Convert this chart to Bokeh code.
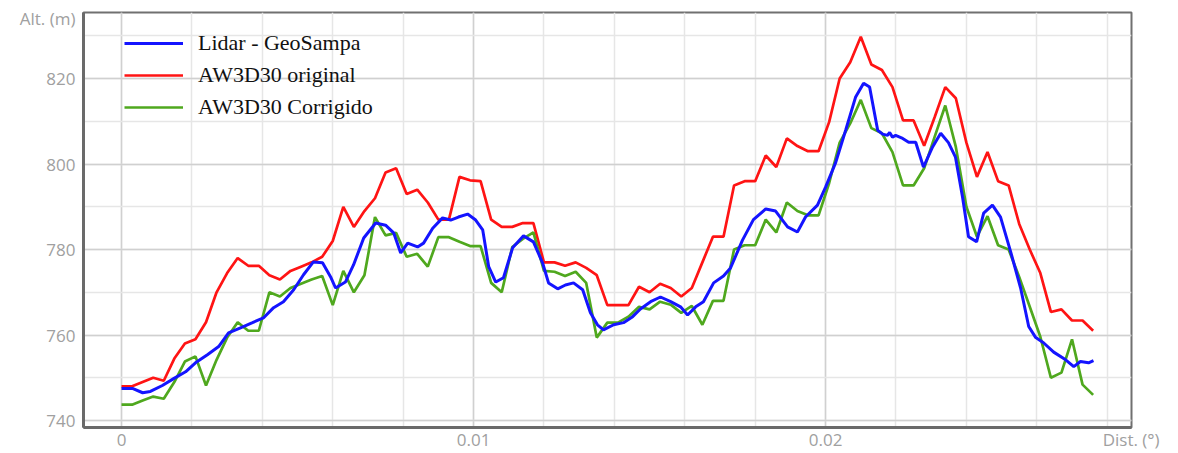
from bokeh.plotting import figure
from bokeh.models import (Range1d, SingleIntervalTicker, FixedTicker, Legend, LegendItem,
                          NumeralTickFormatter)
from bokeh.embed import file_html
from bokeh.resources import INLINE

# ---- data (distance in degrees, altitude in m) ----
dist_aw = [0.0000, 0.0003, 0.0006, 0.0009, 0.0012, 0.0015, 0.0018, 0.0021, 0.0024, 0.0027,
           0.0030, 0.0033, 0.0036, 0.0039, 0.0042, 0.0045, 0.0048, 0.0051, 0.0054, 0.0057,
           0.0060, 0.0063, 0.0066, 0.0069, 0.0072, 0.0075, 0.0078, 0.0081, 0.0084, 0.0087,
           0.0090, 0.0093, 0.0096, 0.0099, 0.0102, 0.0105, 0.0108, 0.0111, 0.0114, 0.0117,
           0.0120, 0.0123, 0.0126, 0.0129, 0.0132, 0.0135, 0.0138, 0.0141, 0.0144, 0.0147,
           0.0150, 0.0153, 0.0156, 0.0159, 0.0162, 0.0165, 0.0168, 0.0171, 0.0174, 0.0177,
           0.0180, 0.0183, 0.0186, 0.0189, 0.0192, 0.0195, 0.0198, 0.0201, 0.0204, 0.0207,
           0.0210, 0.0213, 0.0216, 0.0219, 0.0222, 0.0225, 0.0228, 0.0231, 0.0234, 0.0237,
           0.0240, 0.0243, 0.0246, 0.0249, 0.0252, 0.0255, 0.0258, 0.0261, 0.0264, 0.0267,
           0.0270, 0.0273, 0.0276]

alt_original = [748, 748, 749, 750, 749.3, 754.5, 758, 759, 763, 770,
                774.5, 778, 776.2, 776.2, 774, 773, 775, 776, 777, 778.3,
                782, 790, 785.3, 789, 792, 798, 799, 793, 794, 791,
                787, 787, 797, 796.2, 796, 787, 785.3, 785.3, 786.2, 786.2,
                777, 777, 776.2, 777, 775.7, 774, 767, 767, 767, 771.3,
                770, 772, 771, 769, 771, 777, 783, 783, 795, 796,
                796, 802, 799.3, 806, 804.2, 803, 803, 809.8, 820, 823.8,
                829.8, 823.3, 822, 818, 810.2, 810.2, 804.3, 811, 818, 815.4,
                805, 797, 802.8, 796, 795, 786, 780, 774.5, 765.4, 766,
                763.4, 763.4, 761]

alt_corrigido = [743.7, 743.7, 744.7, 745.6, 745.1, 749, 753.8, 755, 748.2, 754.2,
                 759.4, 763, 761, 761, 770, 769, 771, 772, 773, 773.8,
                 767, 775, 770, 774, 787.6, 783.3, 783.9, 778.3, 779, 776,
                 782.9, 782.9, 781.8, 780.8, 780.8, 772.2, 770, 780.6, 782.5, 784,
                 775, 774.8, 773.8, 774.8, 772.2, 759.4, 762.9, 762.9, 764.3, 766.6,
                 766, 767.8, 767.1, 765.2, 766.8, 762.4, 768, 768, 780, 781,
                 781, 787, 784, 791, 789, 788, 788, 795.5, 805, 809.5,
                 815, 808.4, 807.2, 802.8, 795, 795, 799, 806.4, 813.7, 804,
                 790, 783, 787.8, 781, 780, 773.6, 766.6, 759.6, 750, 751.2,
                 759, 748.4, 746]

dist_lidar = [0.00000, 0.00031, 0.00060, 0.00082, 0.00116, 0.00148, 0.00182, 0.00210, 0.00244, 0.00276,
              0.00304, 0.00338, 0.00372, 0.00403, 0.00432, 0.00460, 0.00489, 0.00517, 0.00545, 0.00571,
              0.00594, 0.00608, 0.00636, 0.00659, 0.00688, 0.00722, 0.00750, 0.00773, 0.00793, 0.00813,
              0.00841, 0.00858, 0.00884, 0.00912, 0.00935, 0.00957, 0.00983, 0.01006, 0.01026, 0.01043,
              0.01063, 0.01085, 0.01111, 0.01142, 0.01170, 0.01196, 0.01213, 0.01239, 0.01261, 0.01284,
              0.01310, 0.01332, 0.01352, 0.01369, 0.01398, 0.01426, 0.01452, 0.01474, 0.01503, 0.01531,
              0.01560, 0.01588, 0.01608, 0.01631, 0.01653, 0.01682, 0.01710, 0.01730, 0.01764, 0.01795,
              0.01830, 0.01858, 0.01892, 0.01920, 0.01943, 0.01977, 0.02000, 0.02028, 0.02057, 0.02085,
              0.02108, 0.02125, 0.02148, 0.02162, 0.02176, 0.02182, 0.02190, 0.02199, 0.02219, 0.02236,
              0.02256, 0.02278, 0.02304, 0.02327, 0.02349, 0.02369, 0.02389, 0.02406, 0.02429, 0.02449,
              0.02474, 0.02497, 0.02526, 0.02554, 0.02577, 0.02597, 0.02619, 0.02648, 0.02682, 0.02705,
              0.02724, 0.02747, 0.02761]

alt_lidar = [747.5, 747.5, 746.5, 746.8, 748.2, 749.8, 751.4, 753.5, 755.4, 757.3,
             760.5, 761.7, 762.9, 764, 766.4, 767.8, 770.6, 774.1, 777.1, 776.9,
             773.6, 771, 772.4, 776.4, 782.7, 786.2, 785.7, 783.9, 779.2, 781.5,
             780.6, 781.5, 785, 787.4, 786.9, 787.6, 788.3, 786.9, 784.6, 776,
             772.4, 773.4, 780.4, 783.2, 781.8, 776.9, 772.2, 770.8, 771.7, 772.2,
             770.6, 765.2, 762.4, 761.2, 762.4, 762.9, 764.3, 766.1, 767.8, 768.9,
             767.8, 766.6, 764.7, 766.6, 767.8, 772.2, 773.8, 775.7, 782.2, 787,
             789.5, 789, 785.3, 784.1, 787.6, 790.4, 794.6, 800.2, 807.9, 815.6,
             818.9, 818, 807.9, 807, 806.7, 807.4, 806.3, 806.7, 806, 805.1,
             805.1, 799.3, 804, 807.2, 805, 801.6, 792.3, 783, 781.8, 788.5,
             790.4, 787.6, 779.4, 771, 762, 759.4, 758.2, 756, 754.2, 752.6,
             753.8, 753.5, 754]

series_names = ["Lidar - GeoSampa", "AW3D30 original", "AW3D30 Corrigido"]
x_tick_values = [0, 0.01, 0.02]
y_tick_values = [740, 760, 780, 800, 820]
x_title = "Dist. (°)"
y_title = "Alt. (m)"
x_title_pos = 0.02868   # axis titles sit at the ends of the axes, in line with tick labels
y_title_pos = 834

# ---- figure ----
p = figure(width=1178, height=453, output_backend="svg", toolbar_location=None,
           x_range=Range1d(-0.00108, 0.02869), y_range=Range1d(738.37, 835.45),
           min_border_left=83, min_border_right=47, min_border_top=12, min_border_bottom=25)
p.background_fill_color = "white"
p.border_fill_color = "white"
p.outline_line_color = "#707070"
p.outline_line_width = 2

r_orig = p.line(dist_aw, alt_original, line_color="#ff1414", line_width=2.7)
r_corr = p.line(dist_aw, alt_corrigido, line_color="#4fa81e", line_width=2.7)
r_lidar = p.line(dist_lidar, alt_lidar, line_color="#1414ff", line_width=3)

# axes (titles placed as extra end labels of each axis)
p.xaxis.ticker = FixedTicker(ticks=x_tick_values + [x_title_pos], minor_ticks=[])
p.yaxis.ticker = FixedTicker(ticks=y_tick_values + [y_title_pos], minor_ticks=[])
p.xaxis.formatter = NumeralTickFormatter(format="0.[00]")
p.xaxis.major_label_overrides = {x_title_pos: x_title}
p.yaxis.major_label_overrides = {y_title_pos: y_title}
for ax in (p.xaxis, p.yaxis):
    ax.axis_line_color = "#6a6a6a"
    ax.axis_line_width = 3
    ax.major_tick_line_color = None
    ax.minor_tick_line_color = None
    ax.major_tick_out = 0
    ax.major_tick_in = 0
    ax.minor_tick_out = 0
    ax.minor_tick_in = 0
    ax.major_label_text_font = "Open Sans"
    ax.major_label_text_font_size = "17px"
    ax.major_label_text_color = "#a0a0a0"
p.xaxis.major_label_standoff = 0
p.yaxis.major_label_standoff = 8

# grids
p.xgrid.ticker = SingleIntervalTicker(interval=0.01, num_minor_ticks=5)
p.ygrid.ticker = SingleIntervalTicker(interval=20, num_minor_ticks=2)
for g in (p.xgrid, p.ygrid):
    g.grid_line_color = "#d0d0d0"
    g.grid_line_width = 1.5
    g.minor_grid_line_color = "#e6e6e6"
    g.minor_grid_line_width = 1.5

# legend
legend = Legend(items=[LegendItem(label=series_names[0], renderers=[r_lidar]),
                       LegendItem(label=series_names[1], renderers=[r_orig]),
                       LegendItem(label=series_names[2], renderers=[r_corr])],
                location=(41, 305), padding=0, margin=0, spacing=2,
                glyph_width=59, glyph_height=30, label_height=30, label_standoff=15,
                label_text_font="Liberation Serif", label_text_font_size="22px",
                label_text_color="#111111", background_fill_alpha=0,
                border_line_alpha=0)
p.add_layout(legend)

open("out.html", "w").write(file_html(p, INLINE))
